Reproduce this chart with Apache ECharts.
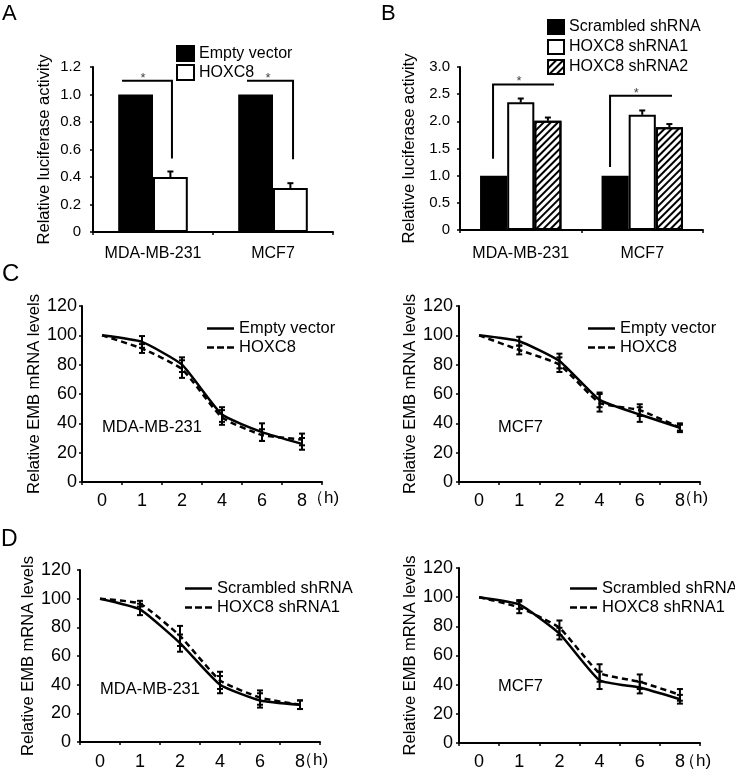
<!DOCTYPE html>
<html><head><meta charset="utf-8">
<script src="https://cdn.jsdelivr.net/npm/echarts@6/dist/echarts.min.js"></script>
<style>
html,body{margin:0;padding:0;background:#fff;width:735px;height:771px;overflow:hidden}
.p{position:absolute;left:0;top:0;width:735px;height:771px}
</style></head>
<body>
<div id="pa" class="p"></div><div id="pb" class="p"></div>
<div id="pc1" class="p"></div><div id="pc2" class="p"></div>
<div id="pd1" class="p"></div><div id="pd2" class="p"></div>
<script>
const FONT = '"Liberation Sans", Arial, Helvetica, sans-serif';

// ---------- Panel A ----------
const barCats = ['MDA-MB-231', 'MCF7'];
const aNames = ['Empty vector', 'HOXC8'];
const aEmpty = [1.0, 1.0];
const aEmptyErr = [0, 0];
const aHoxc8 = [0.40, 0.32];
const aHoxc8Err = [0.04, 0.035];
// significance brackets: [category, leftFrac, rightFrac, topValue, dropValue, starFrac, starValue, dropOnRight]
const aSig = [[0, -0.258, 0.158, 1.10, 0.535, -0.083, 1.117, 1], [1, -0.217, 0.167, 1.10, 0.53, -0.042, 1.117, 1]];

// ---------- Panel B ----------
const bNames = ['Scrambled shRNA', 'HOXC8 shRNA1', 'HOXC8 shRNA2'];
const bScr = [1.0, 1.0];
const bScrErr = [0, 0];
const bSh1 = [2.35, 2.12];
const bSh1Err = [0.07, 0.08];
const bSh2 = [2.01, 1.89];
const bSh2Err = [0.06, 0.06];
const bSig = [[0, -0.228, 0.274, 2.68, 1.31, -0.014, 2.74, 0], [1, -0.265, 0.245, 2.47, 1.16, -0.05, 2.52, 0]];

// ---------- Panels C / D ----------
const hours = ['0', '1', '2', '4', '6', '8'];
const cNames = ['Empty vector', 'HOXC8'];
const dNames = ['Scrambled shRNA', 'HOXC8 shRNA1'];
const cMdaEmpty = [100, 95.5, 80, 46, 34, 26];
const cMdaEmptyErr = [0, 4, 5, 5, 6, 4];
const cMdaHox = [100, 91, 77, 44, 32, 29];
const cMdaHoxErr = [0, 3, 6, 5, 4, 4];
const cMcfEmpty = [100, 96, 82.5, 56, 46, 37];
const cMcfEmptyErr = [0, 3, 5, 5, 5, 2];
const cMcfHox = [100, 90, 80, 54, 49, 37];
const cMcfHoxErr = [0, 3, 5, 6, 4, 3];
const dMdaScr = [100, 92.5, 69, 40, 29, 26];
const dMdaScrErr = [0, 4, 6, 6, 5, 3];
const dMdaSh = [100, 96.5, 74, 43, 31, 26];
const dMdaShErr = [0, 2, 7, 6, 5, 3];
const dMcfScr = [100, 95, 75, 43, 38, 30];
const dMcfScrErr = [0, 3, 4, 6, 4, 3];
const dMcfSh = [100, 93, 79, 48, 42, 33];
const dMcfShErr = [0, 4, 5, 6, 5, 4];

const axisLineStyle = {color: '#000', width: 2};
const SOLID_ICON = 'path://M0,0H27V2.5H0Z';
const DASH_ICON = 'path://M0,0H7V2.5H0Z M10,0H17V2.5H10Z M20,0H27V2.5H20Z';

function barErr(gap, n, idx) {
  return function (params, api) {
    const cat = api.value(0), v = api.value(1), e = api.value(2);
    if (!e) return;
    const band = api.size([1, 0])[0];
    const c = api.coord([cat, v]);
    const t = api.coord([cat, v + e]);
    const gw = band * (1 - gap), bw = gw / n;
    const x = c[0] - gw / 2 + (idx + 0.5) * bw;
    const st = {stroke: '#000', lineWidth: 2};
    return {type: 'group', children: [
      {type: 'line', shape: {x1: x, y1: c[1], x2: x, y2: t[1]}, style: st},
      {type: 'line', shape: {x1: x - 3, y1: t[1], x2: x + 3, y2: t[1]}, style: st}
    ]};
  };
}
function lineErr(params, api) {
  const cat = api.value(0), v = api.value(1), e = api.value(2);
  if (!e) return;
  const hi = api.coord([cat, v + e]), lo = api.coord([cat, v - e]);
  const x = hi[0];
  const st = {stroke: '#000', lineWidth: 2};
  return {type: 'group', children: [
    {type: 'line', shape: {x1: x, y1: lo[1], x2: x, y2: hi[1]}, style: st},
    {type: 'line', shape: {x1: x - 3, y1: hi[1], x2: x + 3, y2: hi[1]}, style: st},
    {type: 'line', shape: {x1: x - 3, y1: lo[1], x2: x + 3, y2: lo[1]}, style: st}
  ]};
}
function bracket(params, api) {
  const cat = api.value(0), xl = api.value(1), xr = api.value(2), yt = api.value(3), yd = api.value(4);
  const sx = api.value(5), sy = api.value(6), side = api.value(7);
  const band = api.size([1, 0])[0];
  const top = api.coord([cat, yt]);
  const drop = api.coord([cat, yd])[1];
  const L = top[0] + xl * band, R = top[0] + xr * band;
  const pts = side ? [[L, top[1]], [R, top[1]], [R, drop]] : [[L, drop], [L, top[1]], [R, top[1]]];
  const star = api.coord([cat, sy]);
  return {type: 'group', children: [
    {type: 'polyline', shape: {points: pts}, style: {stroke: '#000', lineWidth: 2, fill: null}},
    {type: 'text', x: top[0] + sx * band, y: star[1],
     style: {text: '*', fontSize: 13, fontFamily: FONT, fill: '#444', align: 'center', verticalAlign: 'middle'}}
  ]};
}
function catAxis(data, fontSize, margin) {
  return {type: 'category', data: data, boundaryGap: true,
    axisLine: {lineStyle: axisLineStyle},
    axisTick: {show: true, length: 3, lineStyle: {color: '#000', width: 1.5}},
    axisLabel: {color: '#000', fontSize: fontSize, fontFamily: FONT, margin: margin, interval: 0}};
}
function valAxis(max, interval, fontSize, margin, name, nameGap, fmt) {
  return {type: 'value', min: 0, max: max, interval: interval,
    axisLine: {show: true, lineStyle: axisLineStyle},
    axisTick: {show: true, length: 3, lineStyle: {color: '#000', width: 1.5}},
    splitLine: {show: false},
    axisLabel: {color: '#000', fontSize: fontSize, fontFamily: FONT, margin: margin, formatter: fmt},
    name: name, nameLocation: 'middle', nameGap: nameGap,
    nameTextStyle: {color: '#000', fontSize: 16.5, fontFamily: FONT}};
}
function panelLabel(t, x, y, size) {
  return {type: 'text', left: x, top: y, style: {text: t, fontSize: size, fontFamily: FONT, fill: '#000'}};
}
const fmt1 = v => v === 0 ? '0' : v.toFixed(1);

// ---------- A ----------
echarts.init(document.getElementById('pa')).setOption({
  animation: false,
  grid: {left: 93, top: 67, width: 240, height: 165},
  graphic: [panelLabel('A', 2, 3, 22)],
  legend: {orient: 'vertical', left: 171, top: 40, itemWidth: 17, itemHeight: 15, itemGap: 2, icon: 'rect',
    data: aNames, textStyle: {color: '#000', fontSize: 16, fontFamily: FONT}},
  xAxis: catAxis(barCats, 16, 14),
  yAxis: valAxis(1.2, 0.2, 15, 12, 'Relative luciferase activity', 40, fmt1),
  series: [
    {type: 'bar', name: aNames[0], data: aEmpty, barGap: '0%', barCategoryGap: '42%',
      itemStyle: {color: '#000', borderColor: '#000', borderWidth: 2}},
    {type: 'bar', name: aNames[1], data: aHoxc8,
      itemStyle: {color: '#fff', borderColor: '#000', borderWidth: 2}},
    {type: 'custom', renderItem: barErr(0.42, 2, 0), encode: {x: 0, y: 1}, z: 5,
      data: barCats.map((c, i) => [i, aEmpty[i], aEmptyErr[i]])},
    {type: 'custom', renderItem: barErr(0.42, 2, 1), encode: {x: 0, y: 1}, z: 5,
      data: barCats.map((c, i) => [i, aHoxc8[i], aHoxc8Err[i]])},
    {type: 'custom', renderItem: bracket, encode: {x: 0, y: 3}, z: 5, data: aSig}
  ]
});

// ---------- B ----------
echarts.init(document.getElementById('pb')).setOption({
  animation: false,
  grid: {left: 460, top: 67, width: 243, height: 163},
  graphic: [panelLabel('B', 381, 3, 22)],
  legend: {orient: 'vertical', left: 542, top: 14, itemWidth: 16, itemHeight: 14, itemGap: 4, icon: 'rect',
    data: bNames, textStyle: {color: '#000', fontSize: 16, fontFamily: FONT}},
  xAxis: catAxis(barCats, 16, 16),
  yAxis: valAxis(3.0, 0.5, 15, 10, 'Relative luciferase activity', 42, fmt1),
  series: [
    {type: 'bar', name: bNames[0], data: bScr, barGap: '0%', barCategoryGap: '33%',
      itemStyle: {color: '#000', borderColor: '#000', borderWidth: 2}},
    {type: 'bar', name: bNames[1], data: bSh1,
      itemStyle: {color: '#fff', borderColor: '#000', borderWidth: 2}},
    {type: 'bar', name: bNames[2], data: bSh2,
      itemStyle: {color: '#fff', borderColor: '#000', borderWidth: 2,
        decal: {symbol: 'rect', symbolSize: 1, color: '#000', dashArrayX: [1, 0], dashArrayY: [1.5, 3], rotation: -Math.PI / 4}}},
    {type: 'custom', renderItem: barErr(0.33, 3, 0), encode: {x: 0, y: 1}, z: 5,
      data: barCats.map((c, i) => [i, bScr[i], bScrErr[i]])},
    {type: 'custom', renderItem: barErr(0.33, 3, 1), encode: {x: 0, y: 1}, z: 5,
      data: barCats.map((c, i) => [i, bSh1[i], bSh1Err[i]])},
    {type: 'custom', renderItem: barErr(0.33, 3, 2), encode: {x: 0, y: 1}, z: 5,
      data: barCats.map((c, i) => [i, bSh2[i], bSh2Err[i]])},
    {type: 'custom', renderItem: bracket, encode: {x: 0, y: 3}, z: 5, data: bSig}
  ]
});

// ---------- line panels ----------
function linePanel(el, cfg) {
  const series = [];
  cfg.names.forEach((nm, k) => {
    series.push({type: 'line', name: nm, data: cfg.vals[k], symbol: 'none', smooth: 0.15, z: 3,
      lineStyle: {color: '#000', width: 2.5, type: k === 0 ? 'solid' : [6, 4]},
      itemStyle: {color: '#000'}});
    series.push({type: 'custom', renderItem: lineErr, encode: {x: 0, y: 1}, z: 4,
      data: hours.map((h, i) => [i, cfg.vals[k][i], cfg.errs[k][i]])});
  });
  const graphic = [
    {type: 'text', left: cfg.annX, top: cfg.annY, style: {text: cfg.ann, fontSize: 16.5, fontFamily: FONT, fill: '#000'}},
    {type: 'text', left: cfg.hX, top: cfg.hY, style: {text: '（h)', fontSize: 17, fontFamily: FONT, fill: '#000'}}
  ];
  if (cfg.label) graphic.push(panelLabel(cfg.label[0], cfg.label[1], cfg.label[2], cfg.label[3]));
  echarts.init(document.getElementById(el)).setOption({
    animation: false,
    grid: cfg.grid,
    graphic: graphic,
    legend: {orient: 'vertical', left: cfg.legX, top: cfg.legY, itemWidth: 27, itemHeight: 14, itemGap: 2,
      data: [{name: cfg.names[0], icon: SOLID_ICON}, {name: cfg.names[1], icon: DASH_ICON}],
      textStyle: {color: '#000', fontSize: 16.5, fontFamily: FONT}},
    xAxis: catAxis(hours, 18, cfg.xMargin),
    yAxis: valAxis(120, 20, 18, cfg.yMargin, 'Relative EMB mRNA levels', cfg.nameGap),
    series: series
  });
}
linePanel('pc1', {grid: {left: 82, top: 306, width: 240, height: 176}, names: cNames,
  vals: [cMdaEmpty, cMdaHox], errs: [cMdaEmptyErr, cMdaHoxErr], ann: 'MDA-MB-231', annX: 102, annY: 419,
  hX: 307, hY: 490, legX: 202, legY: 315, xMargin: 10, yMargin: 5, nameGap: 37, label: ['C', 2, 262, 24]});
linePanel('pc2', {grid: {left: 459, top: 306, width: 241, height: 176}, names: cNames,
  vals: [cMcfEmpty, cMcfHox], errs: [cMcfEmptyErr, cMcfHoxErr], ann: 'MCF7', annX: 498, annY: 419,
  hX: 676, hY: 490, legX: 583, legY: 315, xMargin: 10, yMargin: 6, nameGap: 38});
linePanel('pd1', {grid: {left: 80, top: 570, width: 240, height: 172}, names: dNames,
  vals: [dMdaScr, dMdaSh], errs: [dMdaScrErr, dMdaShErr], ann: 'MDA-MB-231', annX: 100, annY: 681,
  hX: 296, hY: 752, legX: 180, legY: 575, xMargin: 11, yMargin: 9, nameGap: 34, label: ['D', 1, 528, 23]});
linePanel('pd2', {grid: {left: 459, top: 568, width: 241, height: 177}, names: dNames,
  vals: [dMcfScr, dMcfSh], errs: [dMcfScrErr, dMcfShErr], ann: 'MCF7', annX: 498, annY: 678,
  hX: 679, hY: 753, legX: 565, legY: 575, xMargin: 10, yMargin: 6, nameGap: 39});
</script>
</body></html>
